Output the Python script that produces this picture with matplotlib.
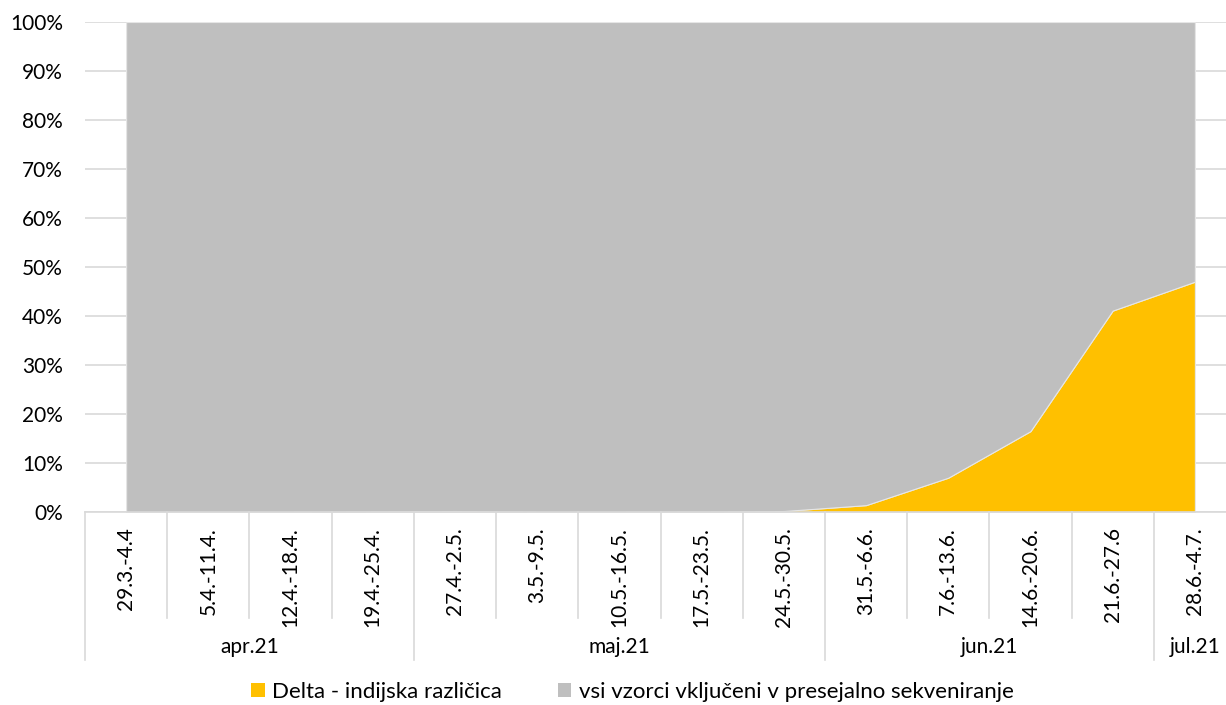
import matplotlib
matplotlib.use("Agg")
import matplotlib.pyplot as plt
import matplotlib.transforms as mtransforms
from matplotlib.patches import Patch
import numpy as np

plt.rcParams['font.family'] = ['Lato', 'DejaVu Sans']

weeks = ["29.3.-4.4", "5.4.-11.4.", "12.4.-18.4.", "19.4.-25.4.", "27.4.-2.5.",
         "3.5.-9.5.", "10.5.-16.5.", "17.5.-23.5.", "24.5.-30.5.", "31.5.-6.6.",
         "7.6.-13.6.", "14.6.-20.6.", "21.6.-27.6", "28.6.-4.7."]
months = ["apr.21", "maj.21", "jun.21", "jul.21"]
month_counts = [4, 5, 4, 1]
delta = [0.0, 0.0, 0.0, 0.1, 0.2, 0.0, 0.0, 0.05, 0.2, 1.4, 7.0, 16.5, 41.1, 47.0]
total = [100.0] * 14
series_names = ["Delta - indijska različica", "vsi vzorci vključeni v presejalno sekveniranje"]
colors = ["#FFC000", "#BFBFBF"]

delta_frac = np.array(delta) / 100.0
rest_frac = np.array(total) / 100.0 - delta_frac

fig = plt.figure(figsize=(12.26, 7.05), dpi=100)
W, H = 1226, 705
left, right, top, bottom = 85, 1236, 22, 512
ax = fig.add_axes([left / W, 1 - bottom / H, (right - left) / W, (bottom - top) / H])

fs = 15
x = np.arange(len(weeks))
ax.stackplot(x, delta_frac, rest_frac, colors=colors, zorder=2,
             edgecolor="#E6E6E6", linewidth=0.8)

ax.set_xlim(-0.5, len(weeks) - 0.5)
ax.set_ylim(0, 1)
ax.set_yticks(np.arange(0, 1.01, 0.1))
ax.set_yticklabels([f"{int(round(v*100))}%" for v in np.arange(0, 1.01, 0.1)], fontsize=fs)
ax.yaxis.grid(True, color="#D9D9D9", linewidth=1.2, zorder=0)
ax.set_axisbelow(True)
for s in ["top", "right", "left"]:
    ax.spines[s].set_visible(False)
ax.spines["bottom"].set_color("#D9D9D9")
ax.spines["bottom"].set_linewidth(1.2)
ax.tick_params(axis="y", length=0, pad=16, colors="black")

ax.set_xticks(x)
ax.set_xticklabels(weeks, rotation=90, fontsize=fs)
ax.tick_params(axis="x", length=0, pad=11)

trans = mtransforms.blended_transform_factory(ax.transData, ax.transAxes)
short_len = -(618 - bottom) / (bottom - top)
long_len = -(660 - bottom) / (bottom - top)
boundaries = np.cumsum([0] + month_counts) - 0.5
for b in np.arange(-0.5, len(weeks), 1.0):
    is_long = any(abs(b - mb) < 1e-6 for mb in boundaries)
    ax.plot([b, b], [0, long_len if is_long else short_len], transform=trans,
            color="#D9D9D9", linewidth=1.2, clip_on=False)

month_y = -(647 - bottom) / (bottom - top)
for i, m in enumerate(months):
    c = (boundaries[i] + boundaries[i + 1]) / 2
    if i == len(months) - 1:
        c = x[-1]
    ax.text(c, month_y, m, transform=trans, ha="center", va="center", fontsize=fs)

handles = [Patch(facecolor=colors[0], label=series_names[0]),
           Patch(facecolor=colors[1], label=series_names[1])]
fig.legend(handles=handles, loc="center", bbox_to_anchor=(0.516, 1 - 692 / H),
           ncol=2, frameon=False, fontsize=16, handlelength=0.6, handleheight=0.6,
           handletextpad=0.35, columnspacing=2.5, borderpad=0.1)

fig.savefig("out.png", dpi=100)
